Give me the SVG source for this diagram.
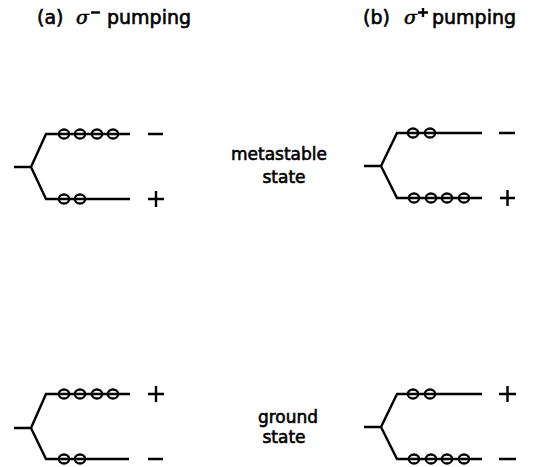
<svg xmlns="http://www.w3.org/2000/svg" width="549" height="467" viewBox="0 0 549 467">
<style>
.t{font-family:"DejaVu Sans",sans-serif;font-size:17px;fill:#000;stroke:#000;stroke-width:0.6}
.h{font-family:"DejaVu Sans",sans-serif;font-size:19px;fill:#000;stroke:#000;stroke-width:0.6}
.g{font-family:"DejaVu Serif",serif;font-style:italic;font-size:19px}
.l{fill:none;stroke:#000;stroke-width:2.4}
.c{fill:none;stroke:#000;stroke-width:2.3}
</style>
<defs>
<ellipse id="o" cx="0" cy="0" rx="5.2" ry="4.5" class="c"/>
</defs>
<rect width="549" height="467" fill="#fff"/>
<g id="titles">
<text class="h" x="37" y="24">(a)</text>
<text class="h g" x="76" y="24">σ</text>
<path d="M91 12.5 H100" class="l" stroke-width="3"/>
<text class="h" x="107" y="24">pumping</text>
<text class="h" x="363" y="24">(b)</text>
<text class="h g" x="404" y="24">σ</text>
<path d="M418 12.5 H428 M423 8 V17" class="l" stroke-width="2.8"/>
<text class="h" x="432" y="24">pumping</text>
</g>
<g id="labels">
<text class="t" x="279" y="160" text-anchor="middle">metastable</text>
<text class="t" x="284" y="183" text-anchor="middle">state</text>
<text class="t" x="288" y="423" text-anchor="middle">ground</text>
<text class="t" x="284" y="443" text-anchor="middle">state</text>
</g>
<g id="connectors">
<path class="l" d="M14 167 H31 L46 134 H130 M31 167 L46 199 H130"/>
<path class="l" d="M364 166 H381 L397 133 H482 M381 166 L397 198 H482"/>
<path class="l" d="M14 428 H31 L46 394 H130 M31 428 L46 459 H129"/>
<path class="l" d="M364 427 H381 L397 394 H482 M381 427 L397 459 H482"/>
</g>
<g id="a-metastable">
<use href="#o" x="64" y="134"/><use href="#o" x="80" y="134"/><use href="#o" x="97" y="134"/><use href="#o" x="113" y="134"/>
<use href="#o" x="64" y="199"/><use href="#o" x="80" y="199"/>
<path class="l" d="M148 134 H163 M148 199 H164 M156 191 V207"/>
</g>
<g id="b-metastable">
<use href="#o" x="413" y="133"/><use href="#o" x="430" y="133"/>
<use href="#o" x="414" y="198"/><use href="#o" x="431" y="198"/><use href="#o" x="447" y="198"/><use href="#o" x="464" y="198"/>
<path class="l" d="M499 133 H515 M500 198 H515 M507.5 190 V206"/>
</g>
<g id="a-ground">
<use href="#o" x="64" y="394"/><use href="#o" x="80" y="394"/><use href="#o" x="97" y="394"/><use href="#o" x="113" y="394"/>
<use href="#o" x="64" y="459"/><use href="#o" x="80" y="459"/>
<path class="l" d="M148 394 H164 M156 386 V402 M148 459 H163"/>
</g>
<g id="b-ground">
<use href="#o" x="413" y="394"/><use href="#o" x="430" y="394"/>
<use href="#o" x="414" y="459"/><use href="#o" x="431" y="459"/><use href="#o" x="447" y="459"/><use href="#o" x="464" y="459"/>
<path class="l" d="M499 394 H516 M507.5 386 V402 M499 459 H516"/>
</g>
</svg>
